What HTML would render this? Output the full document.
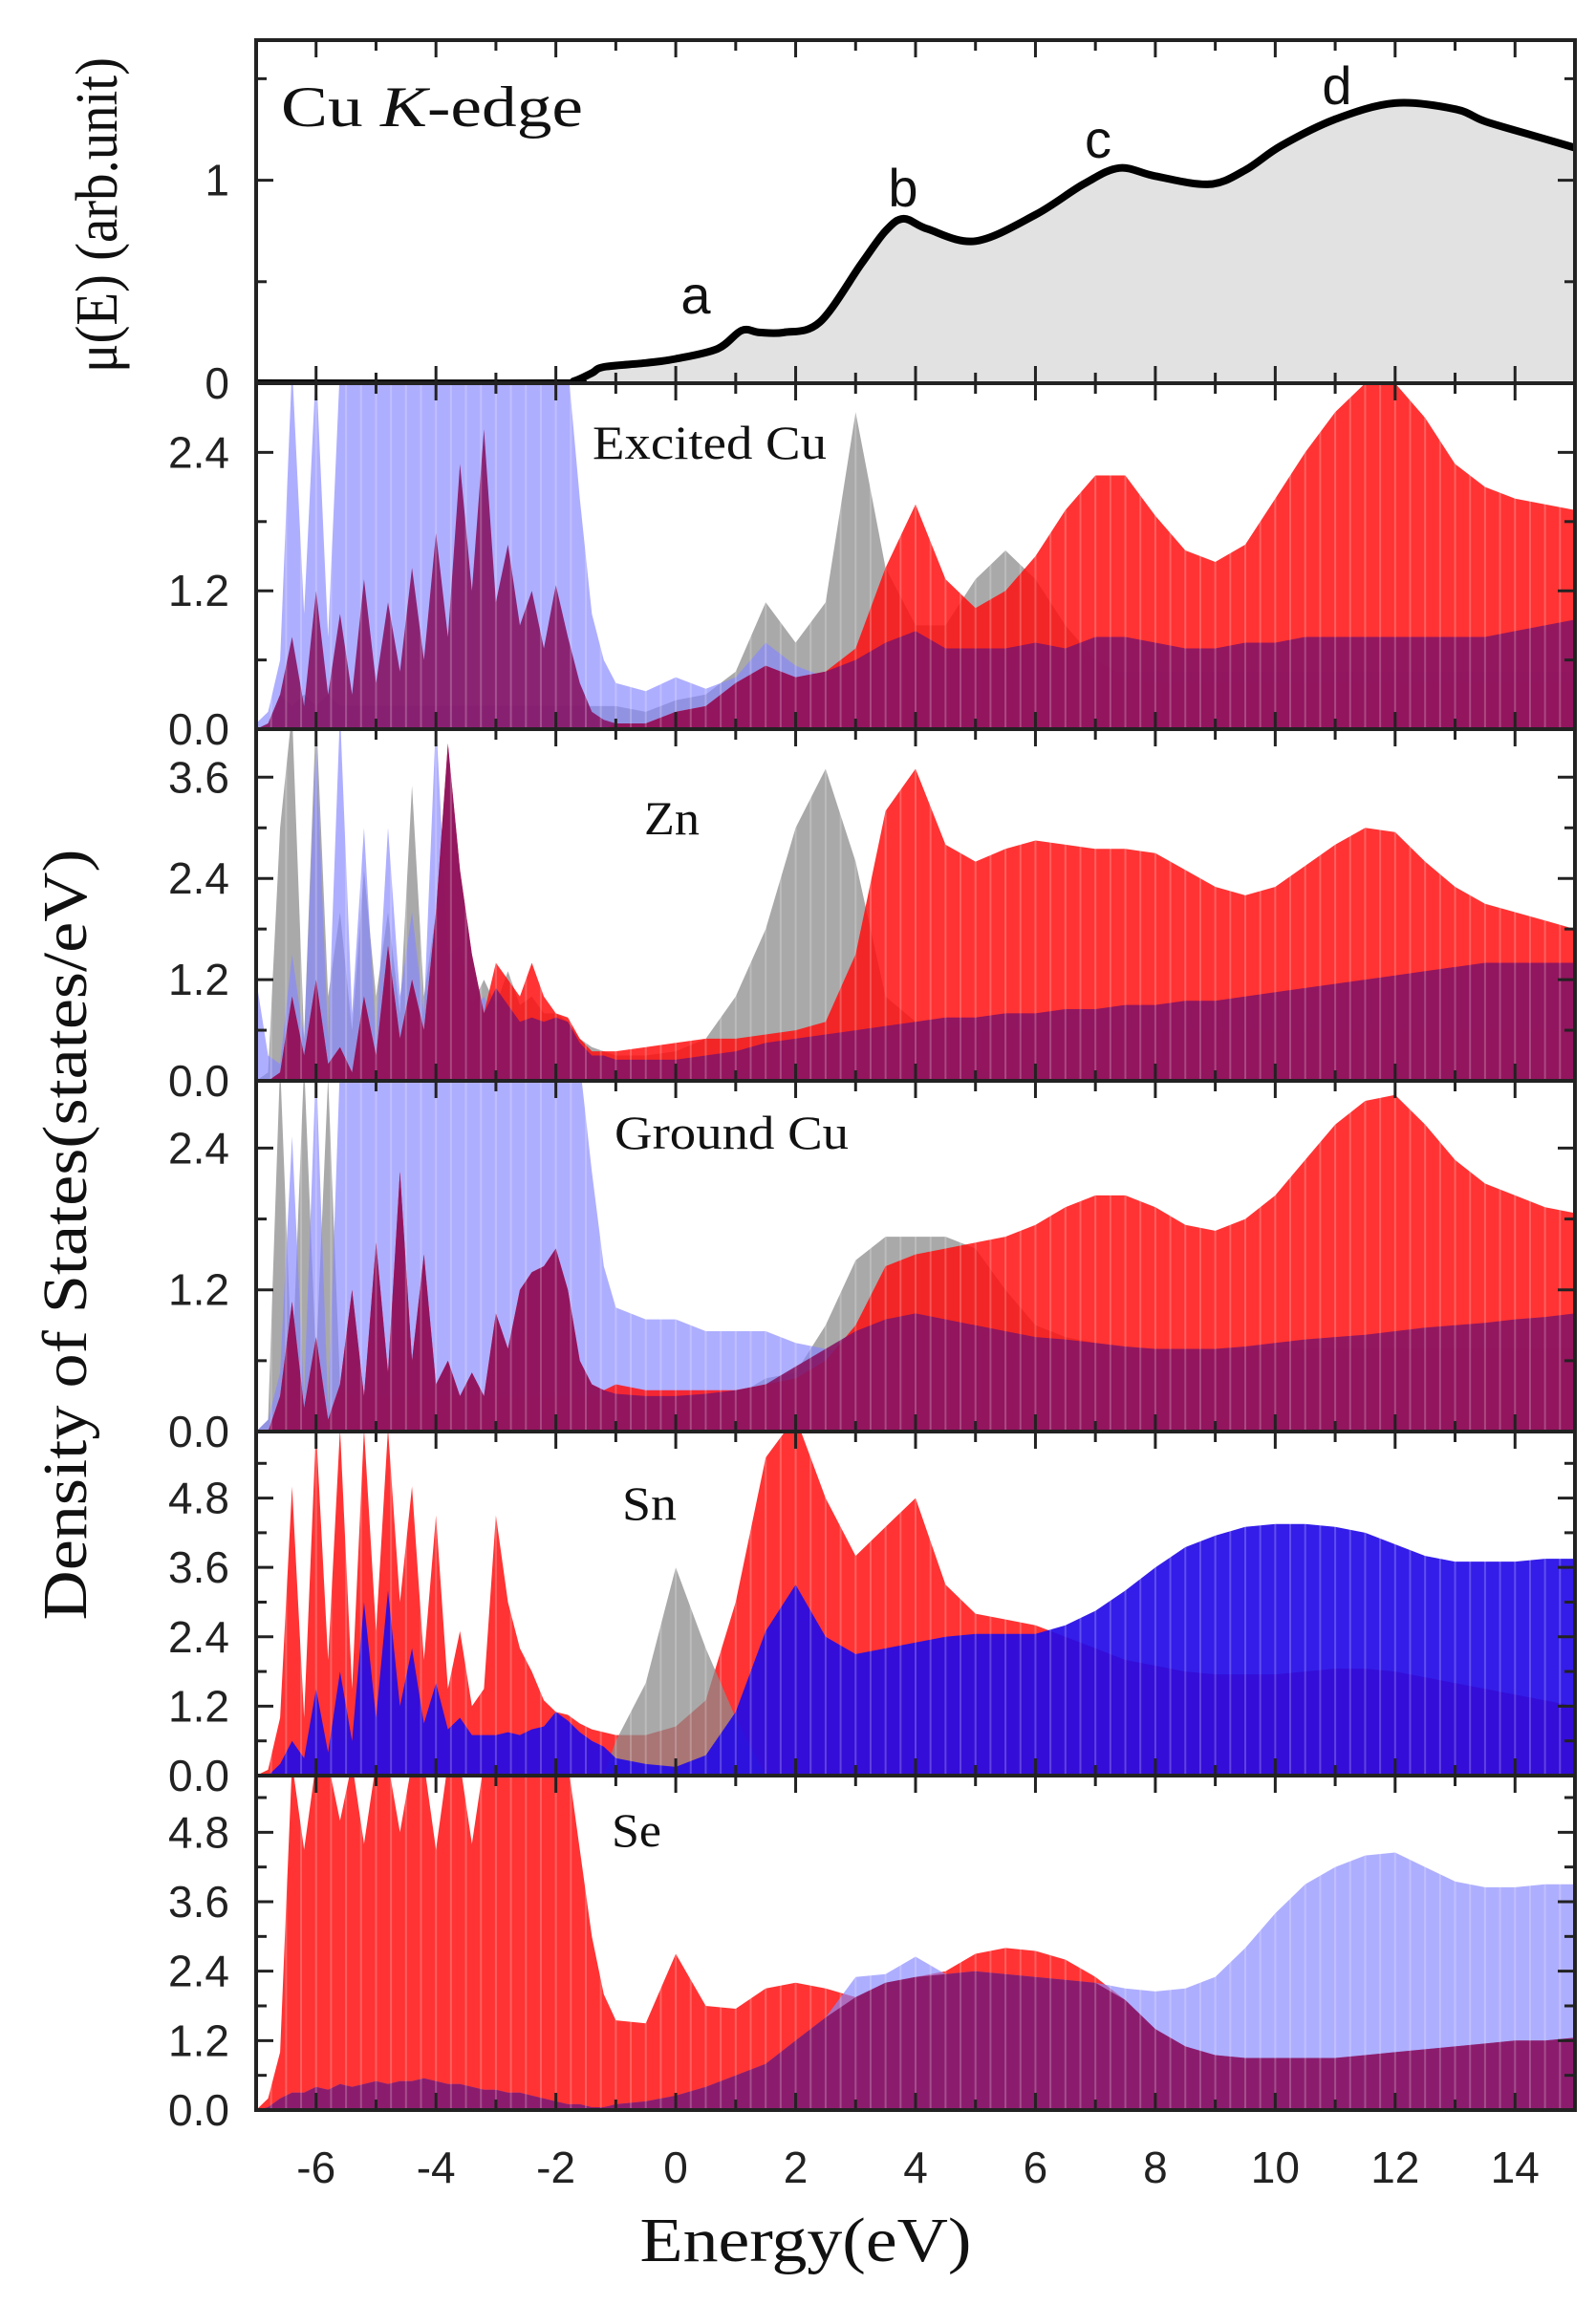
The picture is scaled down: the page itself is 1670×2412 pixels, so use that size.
<!DOCTYPE html>
<html><head><meta charset="utf-8"><style>
html,body{margin:0;padding:0;background:#fff;}
svg{display:block;}
</style></head><body>
<svg id="chart" width="1670" height="2412" viewBox="0 0 1670 2412" xmlns="http://www.w3.org/2000/svg">
<defs id="defs"></defs>
<g id="marks"></g>
<g id="frames"></g>
<g id="labels" font-family="Liberation Sans, sans-serif" fill="#111">
 <text x="0" y="0" transform="translate(122,225) rotate(-90)" text-anchor="middle" font-family="Liberation Serif, serif" font-size="62" textLength="330" lengthAdjust="spacingAndGlyphs">μ(E) (arb.unit)</text>
 <text x="0" y="0" transform="translate(90,1292) rotate(-90)" text-anchor="middle" font-family="Liberation Serif, serif" font-size="66" textLength="807" lengthAdjust="spacingAndGlyphs">Density of States(states/eV)</text>
 <text x="843" y="2366" text-anchor="middle" font-family="Liberation Serif, serif" font-size="66" textLength="347" lengthAdjust="spacingAndGlyphs">Energy(eV)</text>
 <text x="294" y="132" font-family="Liberation Serif, serif" font-size="60" textLength="316" lengthAdjust="spacingAndGlyphs">Cu <tspan font-style="italic">K</tspan>-edge</text>
 <text x="728" y="328" text-anchor="middle" font-size="56">a</text>
 <text x="945" y="216" text-anchor="middle" font-size="56">b</text>
 <text x="1149" y="165" text-anchor="middle" font-size="56">c</text>
 <text x="1399" y="109" text-anchor="middle" font-size="56">d</text>
 <text x="620" y="480" font-family="Liberation Serif, serif" font-size="50" textLength="245" lengthAdjust="spacingAndGlyphs">Excited Cu</text>
 <text x="674" y="873" font-family="Liberation Serif, serif" font-size="50" textLength="58" lengthAdjust="spacingAndGlyphs">Zn</text>
 <text x="643" y="1202" font-family="Liberation Serif, serif" font-size="50" textLength="245" lengthAdjust="spacingAndGlyphs">Ground Cu</text>
 <text x="651" y="1590" font-family="Liberation Serif, serif" font-size="50" textLength="57" lengthAdjust="spacingAndGlyphs">Sn</text>
 <text x="640" y="1932" font-family="Liberation Serif, serif" font-size="50" textLength="52" lengthAdjust="spacingAndGlyphs">Se</text>
</g>
</svg>
<script>
// ---------- data ----------
const xanesE  = [-7,-2,-1.7,-1.4,-1.2,-0.5,0,0.7,1.1,1.4,1.8,2.4,3.1,3.5,3.8,4.2,5.0,6.0,6.8,7.4,8.0,8.9,9.5,10.1,11,12,13,13.5,14.3,15];
const xanesMu = [0,0,0.01,0.05,0.08,0.1,0.12,0.17,0.26,0.25,0.25,0.30,0.59,0.75,0.81,0.76,0.70,0.83,0.98,1.06,1.02,0.98,1.05,1.17,1.30,1.38,1.35,1.29,1.22,1.16];

const energyGrid = [-7.0,-6.8,-6.6,-6.4,-6.2,-6.0,-5.8,-5.6,-5.4,-5.2,-5.0,-4.8,-4.6,-4.4,-4.2,-4.0,-3.8,-3.6,-3.4,-3.2,-3.0,-2.8,-2.6,-2.4,-2.2,-2.0,-1.8,-1.6,-1.4,-1.2,
 -1.0,-0.5,0,0.5,1,1.5,2,2.5,3,3.5,4,4.5,5,5.5,6,6.5,7,7.5,8,8.5,9,9.5,10,10.5,11,11.5,12,12.5,13,13.5,14,14.5,15];

// Excited Cu
const excGray   = [0,0,0.3,0.2,0.3,0.2,0.3,0.2,0.2,0.2,0.2,0.2,0.2,0.2,0.2,0.2,0.2,0.2,0.2,0.2,0.2,0.2,0.2,0.2,0.2,0.2,0.2,0.2,0.2,0.2,
 0.2,0.15,0.25,0.3,0.5,1.1,0.75,1.1,2.75,1.4,0.9,0.9,1.3,1.55,1.3,0.9,0.6,0.45,0.4,0.4,0.4,0.4,0.4,0.4,0.4,0.4,0.4,0.4,0.4,0.4,0.4,0.4,0.4];
const excBlue   = [0.05,0.15,0.6,3.2,1.0,3.5,0.8,3.5,3.5,3.5,3.5,3.5,3.5,3.5,3.5,3.5,3.5,3.5,3.5,3.5,3.5,3.5,3.5,3.5,3.5,3.5,3.5,2.0,1.0,0.6,
 0.4,0.33,0.45,0.35,0.45,0.75,0.55,0.45,0.45,0.5,0.5,0.5,0.5,0.5,0.5,0.5,0.5,0.5,0.5,0.5,0.5,0.5,0.5,0.5,0.5,0.5,0.5,0.5,0.5,0.5,0.5,0.5,0.5];
const excRed    = [0,0,0,0,0,0,0,0,0,0,0,0,0,0,0,0,0,0,0,0,0,0,0,0,0,0,0,0,0,0,
 0.05,0.05,0.15,0.2,0.4,0.55,0.45,0.5,0.7,1.4,1.95,1.3,1.05,1.2,1.5,1.9,2.2,2.2,1.85,1.55,1.45,1.6,2.0,2.4,2.75,3.0,3.0,2.7,2.3,2.1,2.0,1.95,1.9];
const excPurple = [0,0.05,0.3,0.8,0.2,1.2,0.3,1.0,0.3,1.3,0.4,1.1,0.5,1.4,0.6,1.7,0.8,2.3,1.2,2.6,1.1,1.6,0.9,1.2,0.7,1.25,0.8,0.4,0.15,0.08,
 0.05,0.05,0.15,0.2,0.4,0.55,0.45,0.5,0.6,0.75,0.85,0.7,0.7,0.7,0.75,0.7,0.8,0.8,0.75,0.7,0.7,0.75,0.75,0.8,0.8,0.8,0.8,0.8,0.8,0.8,0.85,0.9,0.95];

// Zn
const znGray   = [0,0.1,3.0,4.5,0.5,4.5,1.0,2.0,0.6,2.5,1.0,2.0,0.8,3.5,1.0,2.0,1.0,1.5,0.9,1.2,0.9,1.3,0.9,1.0,0.8,0.8,0.7,0.5,0.4,0.35,
 0.3,0.3,0.35,0.5,1.0,1.8,3.0,3.7,2.6,1.0,0.7,0.65,0.6,0.6,0.6,0.6,0.6,0.6,0.6,0.6,0.6,0.6,0.6,0.6,0.6,0.6,0.6,0.6,0.6,0.6,0.6,0.6,0.6];
const znBlue   = [1.2,0.3,0.2,1.5,0.5,4.0,0.5,4.5,0.8,3.0,0.5,3.0,1.0,2.0,0.8,4.3,1.5,1.6,0.8,1.0,0.7,0.8,0.7,0.7,0.7,0.7,0.6,0.45,0.3,0.3,
 0.25,0.25,0.25,0.3,0.35,0.45,0.5,0.55,0.6,0.65,0.7,0.75,0.75,0.8,0.8,0.85,0.85,0.9,0.9,0.95,0.95,1.0,1.05,1.1,1.15,1.2,1.25,1.3,1.35,1.4,1.4,1.4,1.4];
const znRed    = [0,0,0.1,1.0,0.3,1.2,0.2,0.4,0.1,1.0,0.3,1.6,0.5,1.2,0.6,2.0,4.0,2.5,1.5,0.8,1.4,1.2,1.0,1.4,1.0,0.8,0.75,0.5,0.35,0.35,
 0.35,0.4,0.45,0.5,0.5,0.55,0.6,0.7,1.5,3.2,3.7,2.8,2.6,2.75,2.85,2.8,2.75,2.75,2.7,2.5,2.3,2.2,2.3,2.55,2.8,3.0,2.95,2.6,2.3,2.1,2.0,1.9,1.8];
const znPurple = [0,0,0.1,1.0,0.3,1.2,0.2,0.4,0.1,1.0,0.3,1.6,0.5,1.2,0.6,2.0,4.0,2.5,1.5,0.8,1.1,0.9,0.7,0.75,0.7,0.75,0.7,0.45,0.3,0.3,
 0.25,0.25,0.25,0.3,0.35,0.45,0.5,0.55,0.6,0.65,0.7,0.75,0.75,0.8,0.8,0.85,0.85,0.9,0.9,0.95,0.95,1.0,1.05,1.1,1.15,1.2,1.25,1.3,1.35,1.4,1.4,1.4,1.4];

// Ground Cu
const gndGray   = [0,0.1,3.5,0.5,3.5,0.6,3.0,0.4,0.3,0.3,0.3,0.3,0.3,0.3,0.3,0.3,0.3,0.3,0.3,0.3,0.3,0.3,0.3,0.3,0.3,0.3,0.3,0.3,0.3,0.3,
 0.3,0.3,0.3,0.3,0.3,0.45,0.5,0.9,1.45,1.65,1.65,1.65,1.55,1.2,0.9,0.8,0.75,0.7,0.7,0.7,0.7,0.7,0.7,0.7,0.7,0.7,0.7,0.7,0.7,0.7,0.7,0.7,0.7];
const gndBlue   = [0,0.1,0.5,2.5,0.3,3.5,0.2,3.5,3.5,3.5,3.5,3.5,3.5,3.5,3.5,3.5,3.5,3.5,3.5,3.5,3.5,3.5,3.5,3.5,3.5,3.5,3.5,3.5,2.2,1.4,
 1.05,0.95,0.95,0.85,0.85,0.85,0.75,0.7,0.65,0.6,0.6,0.6,0.6,0.6,0.6,0.6,0.6,0.6,0.6,0.6,0.6,0.6,0.6,0.6,0.6,0.6,0.6,0.6,0.6,0.6,0.6,0.6,0.6];
const gndRed    = [0,0,0.3,1.1,0.2,0.8,0.1,0.4,1.2,0.3,1.6,0.5,2.2,0.6,1.5,0.4,0.6,0.3,0.5,0.3,1.0,0.7,1.2,1.35,1.4,1.55,1.2,0.6,0.4,0.35,
 0.4,0.35,0.35,0.35,0.35,0.4,0.45,0.6,0.9,1.4,1.5,1.55,1.6,1.65,1.75,1.9,2.0,2.0,1.9,1.75,1.7,1.8,2.0,2.3,2.6,2.8,2.85,2.6,2.3,2.1,2.0,1.9,1.85];
const gndPurple = [0,0,0.3,1.1,0.2,0.8,0.1,0.4,1.2,0.3,1.6,0.5,2.2,0.6,1.5,0.4,0.6,0.3,0.5,0.3,1.0,0.7,1.2,1.35,1.4,1.55,1.2,0.6,0.4,0.35,
 0.32,0.3,0.3,0.32,0.35,0.4,0.55,0.7,0.85,0.95,1.0,0.95,0.9,0.85,0.8,0.78,0.75,0.72,0.7,0.7,0.7,0.72,0.75,0.78,0.8,0.82,0.85,0.88,0.9,0.92,0.95,0.97,1.0];

// Sn
const snRed  = [0,0.1,1.0,5.0,1.0,6.0,2.0,6.0,1.5,6.0,2.5,6.0,3.0,5.0,2.0,4.5,1.5,2.5,1.2,1.5,4.5,3.0,2.2,1.8,1.3,1.1,1.05,0.9,0.8,0.75,
 0.7,0.7,0.85,1.3,3.0,5.5,6.2,4.8,3.8,4.3,4.8,3.3,2.8,2.7,2.6,2.4,2.2,2.0,1.9,1.8,1.75,1.75,1.75,1.8,1.85,1.85,1.8,1.7,1.6,1.5,1.4,1.3,1.2];
const snGray = [0,0,0,0,0,0,0,0,0,0,0,0,0,0,0,0,0,0,0,0,0,0,0,0,0,0,0,0,0,0,
 0.6,1.6,3.6,2.2,1.0,0,0,0,0,0,0,0,0,0,0,0,0,0,0,0,0,0,0,0,0,0,0,0,0,0,0,0,0];
const snBlue = [0,0,0.2,0.6,0.3,1.5,0.4,1.8,0.6,3.0,1.0,3.2,1.2,2.2,0.9,1.6,0.8,1.0,0.7,0.7,0.7,0.75,0.7,0.8,0.85,1.1,0.95,0.75,0.6,0.5,
 0.3,0.2,0.15,0.35,1.1,2.5,3.3,2.4,2.1,2.2,2.3,2.4,2.45,2.45,2.45,2.6,2.85,3.2,3.6,3.95,4.15,4.3,4.35,4.35,4.3,4.2,4.0,3.8,3.7,3.7,3.7,3.75,3.75];

// Se
const seRed  = [0,0.2,1.0,6,4.5,6,6,5,6,4.6,6,6,4.8,6,6,4.5,6,6,4.6,6,6,6,6,6,6,6,6,4.5,3.0,2.0,
 1.55,1.5,2.7,1.8,1.75,2.1,2.2,2.1,1.95,2.2,2.3,2.4,2.7,2.8,2.75,2.6,2.3,1.9,1.4,1.1,0.95,0.9,0.9,0.9,0.9,0.95,1.0,1.05,1.1,1.15,1.2,1.2,1.25];
const seBlue = [0,0.05,0.2,0.3,0.3,0.4,0.35,0.45,0.4,0.45,0.5,0.45,0.5,0.5,0.55,0.5,0.45,0.45,0.4,0.35,0.35,0.3,0.3,0.25,0.2,0.15,0.1,0.1,0.05,0.05,
 0.1,0.15,0.25,0.4,0.6,0.8,1.2,1.6,2.3,2.35,2.65,2.35,2.4,2.35,2.3,2.25,2.2,2.1,2.05,2.1,2.3,2.8,3.4,3.9,4.2,4.4,4.45,4.2,3.95,3.85,3.85,3.9,3.9];

const xTicks = [-6,-4,-2,0,2,4,6,8,10,12,14];
const yTicksMu = [0,1];
const yTicksDos = [0,1.2,2.4,3.6,4.8];

// ---------- layout ----------
const X0 = 268, X1 = 1648, EMIN = -7, EMAX = 15;
const xs = e => X0 + (e - EMIN) / (EMAX - EMIN) * (X1 - X0);
const panels = [
 {id:'xanes', top:42, bot:401, ymax:1.69, major:1, minor:0.5, fmt:v=>String(v)},
 {id:'excited-cu', top:401, bot:763, ymax:3.0, major:1.2, minor:0.6, fmt:v=>v.toFixed(1)},
 {id:'zn', top:763, bot:1131, ymax:4.17, major:1.2, minor:0.6, fmt:v=>v.toFixed(1)},
 {id:'ground-cu', top:1131, bot:1498, ymax:2.97, major:1.2, minor:0.6, fmt:v=>v.toFixed(1)},
 {id:'sn', top:1498, bot:1858, ymax:5.95, major:1.2, minor:0.6, fmt:v=>v.toFixed(1)},
 {id:'se', top:1858, bot:2208, ymax:5.78, major:1.2, minor:0.6, fmt:v=>v.toFixed(1)}
];
const NS = 'http://www.w3.org/2000/svg';
const marks = document.getElementById('marks');
const frames = document.getElementById('frames');
const defs = document.getElementById('defs');
function mk(tag, attrs, parent){ const el=document.createElementNS(NS,tag); for(const k in attrs) el.setAttribute(k,attrs[k]); parent.appendChild(el); return el; }

panels.forEach((p,i)=>{
  const cp = mk('clipPath',{id:'clip'+i},defs);
  mk('rect',{x:X0,y:p.top,width:X1-X0,height:p.bot-p.top},cp);
  p.ys = v => p.bot - Math.min(v, p.ymax*1.05) / p.ymax * (p.bot - p.top);
  p.g = mk('g',{'clip-path':'url(#clip'+i+')'},marks);
});

function area(p, E, V, fill, name){
  let d = 'M'+xs(E[0])+','+p.bot;
  for(let k=0;k<E.length;k++) d += 'L'+xs(E[k]).toFixed(1)+','+p.ys(V[k]).toFixed(1);
  d += 'L'+xs(E[E.length-1])+','+p.bot+'Z';
  const el = mk('path',{d:d,fill:fill},p.g);
  
  
  return el;
}
function smoothLine(p, E, V){
  const P = E.map((e,k)=>[xs(e), p.ys(V[k])]);
  let d='M'+P[0][0]+','+P[0][1];
  for(let k=0;k<P.length-1;k++){
    const p0=P[Math.max(0,k-1)], p1=P[k], p2=P[k+1], p3=P[Math.min(P.length-1,k+2)];
    const c1=[p1[0]+(p2[0]-p0[0])/6, p1[1]+(p2[1]-p0[1])/6];
    const c2=[p2[0]-(p3[0]-p1[0])/6, p2[1]-(p3[1]-p1[1])/6];
    d+='C'+c1[0].toFixed(1)+','+c1[1].toFixed(1)+' '+c2[0].toFixed(1)+','+c2[1].toFixed(1)+' '+p2[0].toFixed(1)+','+p2[1].toFixed(1);
  }
  return d;
}

const GRAY='rgba(140,140,140,0.75)', LBLUE='rgba(135,135,255,0.68)', RED='rgba(255,15,15,0.85)', PURPLE='rgba(135,20,100,0.9)', BLUE='rgba(35,10,230,0.92)';

{
  const p = panels[0];
  const line = smoothLine(p, xanesE, xanesMu);
  const fill = mk('path',{d: line+'L'+X1+','+p.bot+'L'+X0+','+p.bot+'Z', fill:'#e2e2e2'}, p.g);
  
  
  const ln = mk('path',{d: line, fill:'none', stroke:'#000', 'stroke-width':8, 'stroke-linejoin':'round'}, p.g);
  
  
}
area(panels[1], energyGrid, excGray, GRAY, 'excited-cu-gray');
area(panels[1], energyGrid, excBlue, LBLUE, 'excited-cu-blue');
area(panels[1], energyGrid, excRed, RED, 'excited-cu-red');
area(panels[1], energyGrid, excPurple, PURPLE, 'excited-cu-purple');

area(panels[2], energyGrid, znGray, GRAY, 'zn-gray');
area(panels[2], energyGrid, znBlue, LBLUE, 'zn-blue');
area(panels[2], energyGrid, znRed, RED, 'zn-red');
area(panels[2], energyGrid, znPurple, PURPLE, 'zn-purple');

area(panels[3], energyGrid, gndGray, GRAY, 'ground-cu-gray');
area(panels[3], energyGrid, gndBlue, LBLUE, 'ground-cu-blue');
area(panels[3], energyGrid, gndRed, RED, 'ground-cu-red');
area(panels[3], energyGrid, gndPurple, PURPLE, 'ground-cu-purple');

area(panels[4], energyGrid, snRed, RED, 'sn-red');
area(panels[4], energyGrid, snGray, GRAY, 'sn-gray');
area(panels[4], energyGrid, snBlue, BLUE, 'sn-blue');

const sePurple = seRed.map((v,k)=>Math.min(v, seBlue[k]));
area(panels[5], energyGrid, seRed, RED, 'se-red');
area(panels[5], energyGrid, seBlue, LBLUE, 'se-blue');
area(panels[5], energyGrid, sePurple, PURPLE, 'se-purple');

panels.forEach((p,i)=>{
  if(i===0) return;
  for(let e=EMIN+0.25;e<EMAX;e+=0.25){
    mk('line',{x1:xs(e),x2:xs(e),y1:p.top,y2:p.bot,stroke:'rgba(255,255,255,0.22)','stroke-width':2},p.g);
  }
});

panels.forEach((p,i)=>{
  const fr = mk('rect',{x:X0,y:p.top,width:X1-X0,height:p.bot-p.top,fill:'none',stroke:'#222','stroke-width':4},frames);
  
  
  for(let e=-6;e<=14;e+=1){
    const L = (e%2===0)?18:11;
    mk('line',{x1:xs(e),x2:xs(e),y1:p.bot,y2:p.bot-L,stroke:'#222','stroke-width':3},frames);
    mk('line',{x1:xs(e),x2:xs(e),y1:p.top,y2:p.top+L,stroke:'#222','stroke-width':3},frames);
  }
  for(let v=0; v<=p.ymax+1e-6; v+=p.minor){
    const y = p.ys(v);
    const isMajor = Math.abs(v/p.major - Math.round(v/p.major))<1e-6;
    const L = isMajor?18:11;
    mk('line',{x1:X0,x2:X0+L,y1:y,y2:y,stroke:'#222','stroke-width':3},frames);
    mk('line',{x1:X1,x2:X1-L,y1:y,y2:y,stroke:'#222','stroke-width':3},frames);
  }
  const ticks = i===0 ? yTicksMu : yTicksDos;
  ticks.forEach(v=>{
    if(v>p.ymax) return;
    const t = mk('text',{x:240,y:p.ys(v)+16,'text-anchor':'end','font-family':'Liberation Sans, sans-serif','font-size':46,fill:'#222'},frames);
    t.textContent = p.fmt(v);
    
    
  });
});
xTicks.forEach(e=>{
  const t = mk('text',{x:xs(e),y:2284,'text-anchor':'middle','font-family':'Liberation Sans, sans-serif','font-size':46,fill:'#222'},frames);
  t.textContent = String(e);
  
  
});
</script>
</body></html>
